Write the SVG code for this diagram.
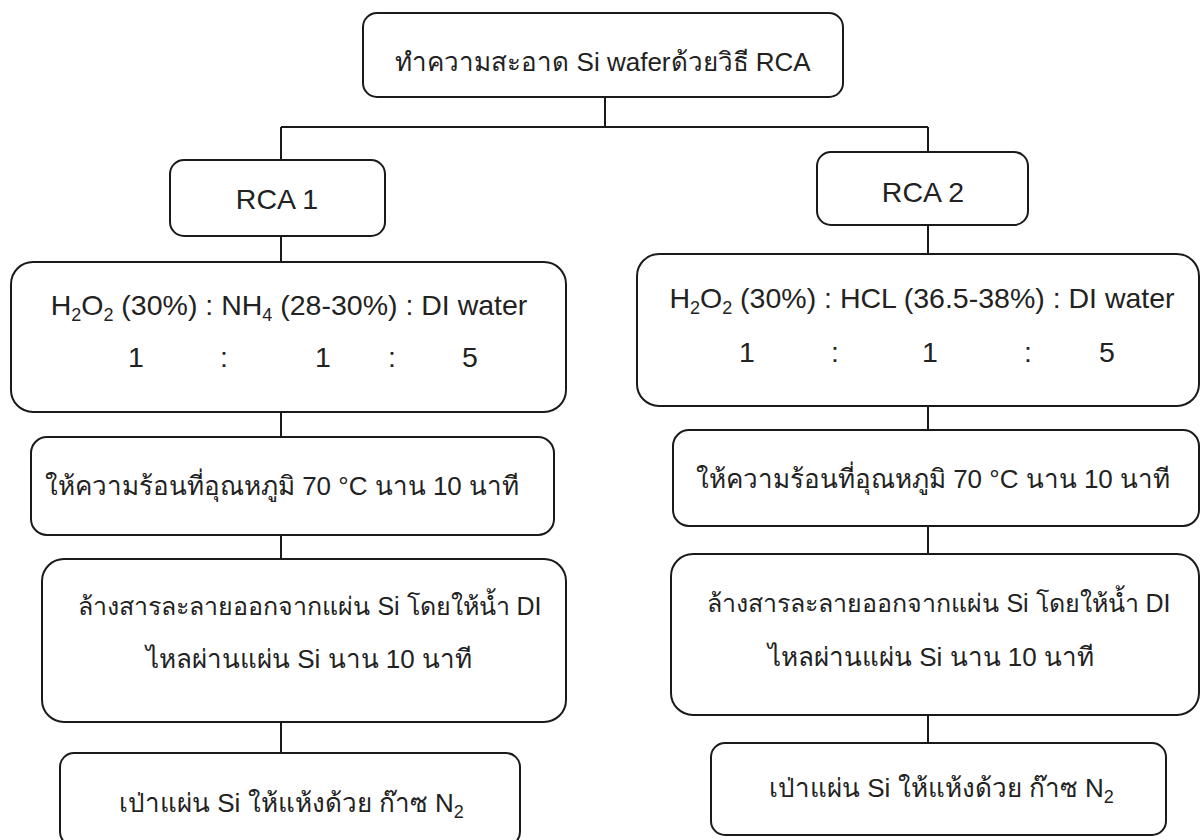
<svg xmlns="http://www.w3.org/2000/svg" width="1202" height="840" viewBox="0 0 1202 840">
<style>
.box{fill:#fff;stroke:#1a1a1a;stroke-width:2}
.ln{fill:none;stroke:#1a1a1a;stroke-width:2}
text{font-family:"Liberation Sans","Noto Sans","DejaVu Sans",sans-serif;font-size:28.5px;fill:#222;text-anchor:middle}
.th{font-size:26px}
.th25{font-size:25px}
.sub{font-size:18px;text-anchor:start}
</style>
<rect width="1202" height="840" fill="#fff"/>
<g id="connectors">
<path class="ln" d="M605 97V127M281 127H928M281 127V160M928 127V152"/>
<path class="ln" d="M281 236V262M281 412V437M281 535V559M281 722V753"/>
<path class="ln" d="M928 225V254M928 406V430M928 526V554M928 715V743"/>
</g>
<g id="top">
<rect class="box" x="363" y="13" width="480" height="84" rx="14"/>
<text class="th" x="603" y="71">ทำความสะอาด Si waferด้วยวิธี RCA</text>
</g>
<g id="rca1">
<rect class="box" x="170" y="160" width="215" height="76" rx="14"/>
<text x="277" y="209">RCA 1</text>
</g>
<g id="rca2">
<rect class="box" x="817" y="152" width="211" height="73" rx="14"/>
<text x="923" y="202">RCA 2</text>
</g>
<g id="mix1">
<rect class="box" x="11" y="262" width="555" height="150" rx="22"/>
<text x="289" y="315">H<tspan dy="6" font-size="18">2</tspan><tspan dy="-6">O</tspan><tspan dy="6" font-size="18">2</tspan><tspan dy="-6"> (30%) : NH</tspan><tspan dy="6" font-size="18">4</tspan><tspan dy="-6"> (28-30%) : DI water</tspan></text>
<text x="136" y="367">1</text><text x="224" y="367">:</text><text x="323" y="367">1</text><text x="392" y="367">:</text><text x="470" y="367">5</text>
</g>
<g id="mix2">
<rect class="box" x="637" y="254" width="562" height="152" rx="22"/>
<text x="922" y="308">H<tspan dy="6" font-size="18">2</tspan><tspan dy="-6">O</tspan><tspan dy="6" font-size="18">2</tspan><tspan dy="-6"> (30%) : HCL (36.5-38%) : DI water</tspan></text>
<text x="747" y="362">1</text><text x="835" y="362">:</text><text x="930" y="362">1</text><text x="1028" y="362">:</text><text x="1107" y="362">5</text>
</g>
<g id="heat1">
<rect class="box" x="31" y="437" width="523" height="98" rx="16"/>
<text class="th" x="282" y="495">ให้ความร้อนที่อุณหภูมิ 70 °C นาน 10 นาที</text>
</g>
<g id="heat2">
<rect class="box" x="673" y="430" width="526" height="96" rx="16"/>
<text class="th" x="933" y="488">ให้ความร้อนที่อุณหภูมิ 70 °C นาน 10 นาที</text>
</g>
<g id="rinse1">
<rect class="box" x="42" y="559" width="524" height="163" rx="22"/>
<text class="th25" x="310" y="615">ล้างสารละลายออกจากแผ่น Si โดยให้น้ำ DI</text>
<text class="th" x="309" y="668">ไหลผ่านแผ่น Si นาน 10 นาที</text>
</g>
<g id="rinse2">
<rect class="box" x="671" y="554" width="528" height="161" rx="22"/>
<text class="th25" x="939" y="612">ล้างสารละลายออกจากแผ่น Si โดยให้น้ำ DI</text>
<text class="th" x="931" y="666">ไหลผ่านแผ่น Si นาน 10 นาที</text>
</g>
<g id="dry1">
<rect class="box" x="60" y="753" width="460" height="93" rx="14"/>
<text class="th" x="119" y="812" text-anchor="start" style="text-anchor:start">เป่าแผ่น Si ให้แห้งด้วย ก๊าซ N<tspan class="sub" dy="6">2</tspan></text>
</g>
<g id="dry2">
<rect class="box" x="711" y="743" width="455" height="92" rx="14"/>
<text class="th" x="769" y="797" style="text-anchor:start">เป่าแผ่น Si ให้แห้งด้วย ก๊าซ N<tspan class="sub" dy="6">2</tspan></text>
</g>
</svg>
